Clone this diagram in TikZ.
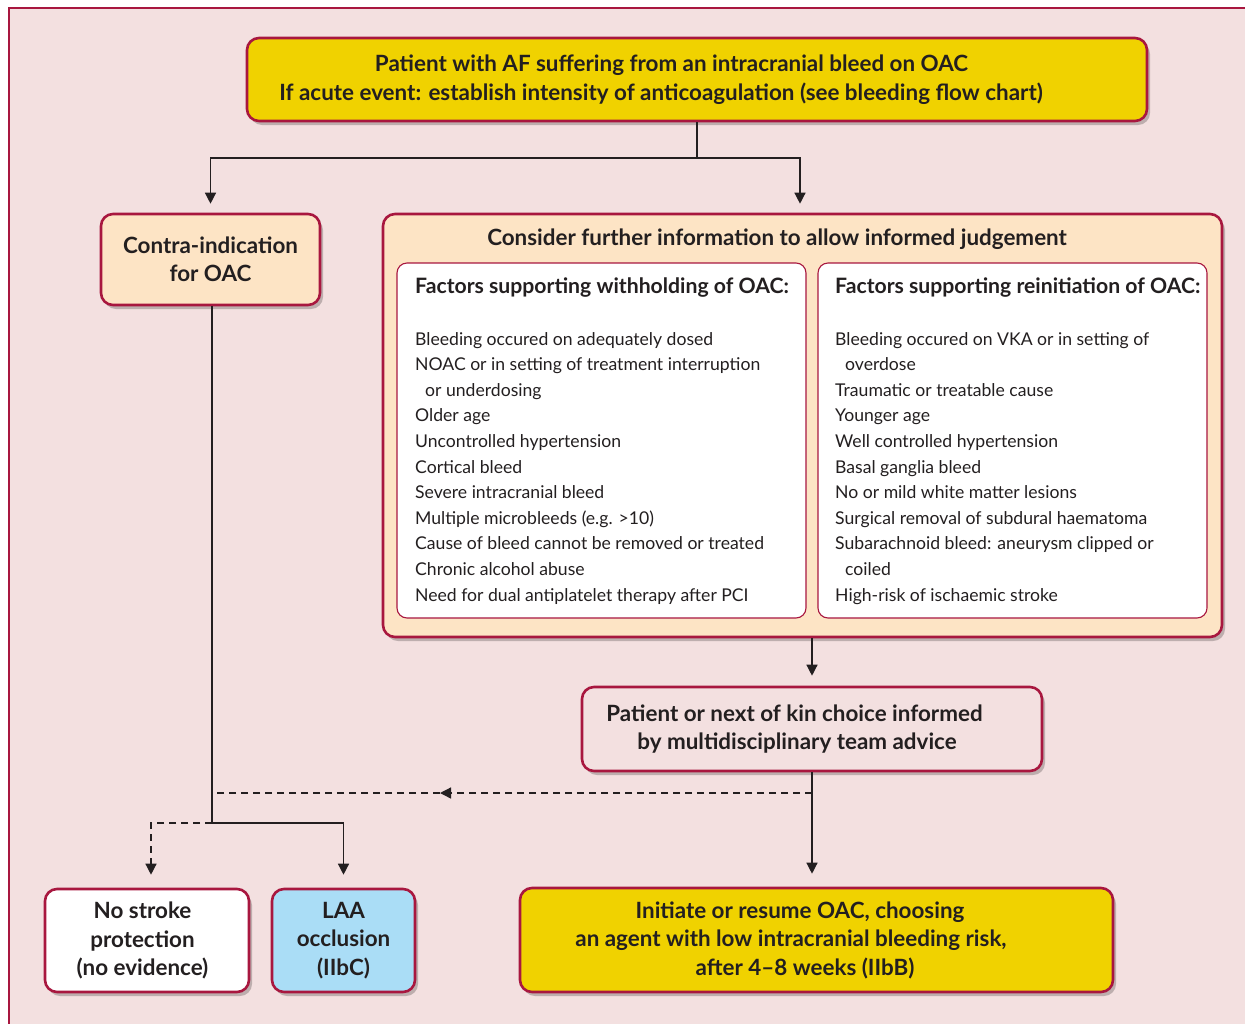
\documentclass[tikz,border=0pt]{standalone}
\usepackage{fontspec}
\setmainfont{Lato}
\usetikzlibrary{arrows.meta,shadows}
\definecolor{bgpink}{HTML}{F3E0E0}
\definecolor{bred}{HTML}{A8173F}
\definecolor{yel}{HTML}{F0D200}
\definecolor{peach}{HTML}{FDE4C5}
\definecolor{lblue}{HTML}{AADDF6}
\definecolor{ink}{HTML}{231F20}
\tikzset{
  box/.style={draw=bred, line width=2.6pt, rounded corners=12pt, inner sep=0pt,
    align=center, text=ink, font=\fontsize{22.4}{28.5}\selectfont\bfseries,
    drop shadow={shadow xshift=3pt, shadow yshift=-4pt, opacity=0.22, fill=black}},
  wbox/.style={draw=bred, line width=1.1pt, rounded corners=10pt, fill=white, inner sep=0pt},
  arr/.style={-{Triangle[width=11pt,length=11pt]}, line width=1.3pt, draw=ink},
  conn/.style={line width=1.3pt, draw=ink},
  dsh/.style={dash pattern=on 7pt off 5pt},
  listtxt/.style={anchor=north west, align=left, inner sep=0pt, text=ink,
    font=\fontsize{17.6}{25.6}\selectfont},
  headtxt/.style={anchor=base west, inner sep=0pt, text=ink,
    font=\fontsize{21.2}{25}\selectfont\bfseries},
}
\begin{document}
\begin{tikzpicture}[x=1pt,y=-1pt]
\useasboundingbox (0,0) rectangle (1245,1023);
% background panel
\fill[white] (0,0) rectangle (1245,1023);
\fill[bgpink] (9,8) rectangle (1250,1030);
\draw[bred, line width=1.4pt] (9,1030) -- (9,8) -- (1250,8);

% top box
\node[box, fill=yel, minimum width=900pt, minimum height=83pt] (top) at (697,79.5)
  {\hspace*{-51pt}Patient with AF suffering from an intracranial bleed on OAC\\
   \hspace*{-72pt}If acute event: establish intensity of anticoagulation (see bleeding flow chart)};

% contra-indication
\node[box, fill=peach, minimum width=219pt, minimum height=91pt] (contra) at (210.5,259.5)
  {Contra-indication\\for OAC};

% big box
\node[box, fill=peach, minimum width=839pt, minimum height=423pt] (big) at (802.5,425.5) {};
\node[anchor=base, inner sep=0pt, text=ink, font=\fontsize{22.4}{25}\selectfont\bfseries] (bigtitle) at (777,245)
  {Consider further information to allow informed judgement};

\node[wbox, minimum width=409pt, minimum height=355pt] (wl) at (601.5,440.5) {};
\node[wbox, minimum width=389pt, minimum height=355pt] (wr) at (1012.5,440.5) {};

\node[headtxt] (hl) at (415,293) {Factors supporting withholding of OAC:};
\node[headtxt] (hr) at (835,293) {Factors supporting reinitiation of OAC:};

\node[listtxt] (ll) at (415,332) {Bleeding occured on adequately dosed\\
NOAC or in setting of treatment interruption\\
\hspace*{10pt}or underdosing\\
Older age\\
Uncontrolled hypertension\\
Cortical bleed\\
Severe intracranial bleed\\
Multiple microbleeds (e.g. >10)\\
Cause of bleed cannot be removed or treated\\
Chronic alcohol abuse\\
Need for dual antiplatelet therapy after PCI};

\node[listtxt] (lr) at (835,332) {Bleeding occured on VKA or in setting of\\
\hspace*{10pt}overdose\\
Traumatic or treatable cause\\
Younger age\\
Well controlled hypertension\\
Basal ganglia bleed\\
No or mild white matter lesions\\
Surgical removal of subdural haematoma\\
Subarachnoid bleed: aneurysm clipped or\\
\hspace*{10pt}coiled\\
High-risk of ischaemic stroke};

% patient choice box
\node[box, fill=bgpink, minimum width=460pt, minimum height=84pt] (pat) at (812,729)
  {\hspace*{-35pt}Patient or next of kin choice informed\\\hspace*{-30pt}by multidisciplinary team advice};

% bottom boxes
\node[box, fill=white, minimum width=204pt, minimum height=103pt] (nostroke) at (147,940.5)
  {\hspace*{-9pt}No stroke\\\hspace*{-9pt}protection\\\hspace*{-9pt}(no evidence)};
\node[box, fill=lblue, minimum width=143pt, minimum height=103pt] (laa) at (343.5,940.5)
  {LAA\\occlusion\\(IIbC)};
\node[box, fill=yel, minimum width=593pt, minimum height=104pt] (init) at (816.5,940)
  {\hspace*{-33pt}Initiate or resume OAC, choosing\\\hspace*{-51pt}an agent with low intracranial bleeding risk,\\\hspace*{-23pt}after 4--8 weeks (IIbB)};

% connectors
\coordinate (split) at (697,158);
\draw[conn] (top.south) -- (split);
\draw[arr, shorten >=9pt] (split) -| (contra.north);
\draw[arr, shorten >=9pt] (split) -| ([xshift=-2.5pt]big.north);

\draw[arr, shorten >=10pt] (pat.north |- big.south) -- (pat.north);
\draw[arr, shorten >=13pt] (pat.south) -- (pat.south |- init.north);

\coordinate (j) at (212,823);
\coordinate (dj) at (212,793);
\coordinate (dm) at (812,793);
\coordinate (dmid) at (440,793);
\draw[conn, line width=1.8pt] (contra.south -| j) -- (j);
\draw[arr, shorten >=13pt] (j) -| (laa.north);
\draw[arr, dsh, shorten >=13pt] (j) -| ([xshift=4pt]nostroke.north);
\draw[arr, dsh] (dm) -- (dmid);
\draw[conn, dsh] (dmid) -- (dj);
\end{tikzpicture}
\end{document}
